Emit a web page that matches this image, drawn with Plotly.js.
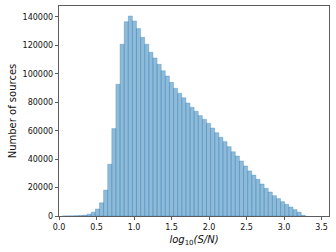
<!DOCTYPE html>
<html>
<head>
<meta charset="utf-8">
<script src="https://cdn.plot.ly/plotly-3.0.1.min.js"></script>
<style>
  html, body { margin: 0; padding: 0; background: #fff; }
  #chart { width: 336px; height: 252px; }
</style>
</head>
<body>
<div id="chart"></div>
<script>
// histogram of log10(S/N): left edge of first bin and bin width
const binStart = 0.045;
const binWidth = 0.0549;

// counts per bin
const counts = [
  20, 50, 100, 200, 350, 600, 1300, 2700, 4900, 9300,
  18200, 36400, 61500, 92600, 120800, 136700, 140700, 137200, 131800, 125700,
  120800, 115200, 111200, 106700, 102200, 98500, 94000, 89800, 86300, 83200,
  79500, 76500, 73700, 70600, 68000, 65200, 61900, 58600, 55400, 52300,
  48800, 45200, 42200, 38700, 35200, 31700, 28800, 25800, 22500, 19500,
  16900, 14300, 12200, 10100, 8200, 6300, 4500, 2700, 500
];

const xTicks = [0.0, 0.5, 1.0, 1.5, 2.0, 2.5, 3.0, 3.5];
const yTicks = [0, 20000, 40000, 60000, 80000, 100000, 120000, 140000];

const font = { family: 'DejaVu Sans', size: 8, color: '#111' };

const data = [
  {
    type: 'bar',
    y: counts,
    x0: binStart + binWidth / 2,
    dx: binWidth,
    marker: {
      color: 'rgba(31,119,180,0.5)',
      line: { color: 'rgba(31,119,180,0.4)', width: 0.7 }
    },
    hoverinfo: 'none'
  }
];

const layout = {
  width: 336,
  height: 252,
  margin: { l: 59, r: 7, t: 6, b: 36 },
  paper_bgcolor: '#fff',
  plot_bgcolor: '#fff',
  bargap: 0,
  showlegend: false,
  font: font,
  xaxis: {
    range: [0, 3.6],
    tickvals: xTicks,
    ticktext: xTicks.map(v => v.toFixed(1)),
    ticks: 'outside',
    ticklen: 3.5,
    tickwidth: 0.8,
    tickcolor: '#333',
    showgrid: false,
    zeroline: false,
    showline: true,
    linecolor: '#333',
    linewidth: 0.8,
    mirror: true,
    tickfont: font,
    title: {
      text: '<i>log</i><sub>10</sub><i>(S/N)</i>',
      font: { family: 'DejaVu Sans', size: 10, color: '#111' },
      standoff: 4
    }
  },
  yaxis: {
    range: [0, 147700],
    tickvals: yTicks,
    ticktext: yTicks.map(v => String(v)),
    ticks: 'outside',
    ticklen: 3.5,
    tickwidth: 0.8,
    tickcolor: '#333',
    showgrid: false,
    zeroline: false,
    showline: true,
    linecolor: '#333',
    linewidth: 0.8,
    mirror: true,
    tickfont: font,
    title: {
      text: 'Number of sources',
      font: { family: 'DejaVu Sans', size: 10, color: '#111' },
      standoff: 3
    }
  }
};

Plotly.newPlot('chart', data, layout, { displayModeBar: false, staticPlot: true });
</script>
</body>
</html>
